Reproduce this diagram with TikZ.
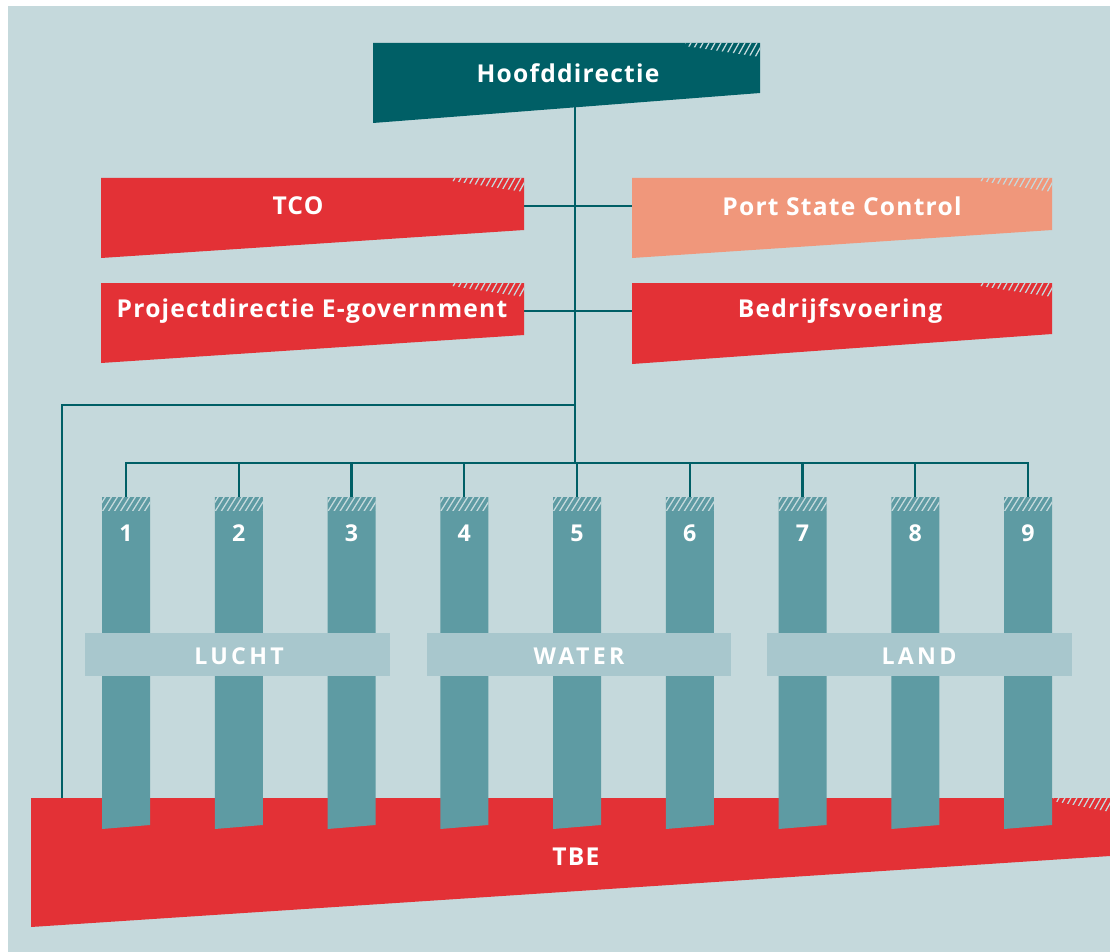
\documentclass[tikz,border=0pt]{standalone}
\usepackage{fontspec}
\setsansfont{Open Sans}[LetterSpace=5]
\usetikzlibrary{backgrounds}
\definecolor{bgblue}{HTML}{C5D9DC}
\definecolor{darkteal}{HTML}{005F66}
\definecolor{boxred}{HTML}{E33136}
\definecolor{salmon}{HTML}{F0977B}
\definecolor{colteal}{HTML}{5E9BA3}
\definecolor{bandblue}{HTML}{A8C7CD}

\begin{document}
\begin{tikzpicture}[x=0.025cm,y=-0.025cm,line join=round]
\tikzset{every node/.style={font=\sffamily\bfseries\fontsize{17.5}{20}\selectfont, text=white},
	small/.style={font=\sffamily\bfseries\fontsize{16.5}{19}\selectfont},
	grouplabel/.style={font=\sffamily\bfseries\fontsize{16.5}{19}\selectfont\addfontfeature{LetterSpace=14}},
	link/.style={draw=darkteal, line width=1.5pt},
	hatch/.style={draw=bgblue, line width=0.9pt}}
\useasboundingbox (0,0) rectangle (1110,952);
% top boxes
\fill[darkteal] (373,43)--(760,43)--(760,93)--(373,123)--cycle;
\fill[boxred] (101,178)--(524,178)--(524,230)--(101,258)--cycle;
\fill[salmon] (632,178)--(1052,178)--(1052,230)--(632,258)--cycle;
\fill[boxred] (101,283)--(524,283)--(524,335)--(101,363)--cycle;
\fill[boxred] (632,283)--(1052,283)--(1052,334)--(632,364)--cycle;
% TBE
\fill[boxred] (31,798)--(1110,798)--(1110,856)--(31,927)--cycle;
% hatched corners
\foreach \x/\y/\w in {760/43/75, 524/178/72, 1052/178/72, 524/283/72, 1052/283/72, 1110/798/57}{
	\begin{scope}
	\clip (\x-\w,\y)--(\x,\y)--(\x,\y+14)--(\x-\w,\y+3)--cycle;
	\foreach \s in {-6,0,...,84} \draw[hatch] (\x-\s,\y+16)--++(10,-18);
	\end{scope}
}
\node (hoofd) at (568,73) {Hoofddirectie};
\node (tco) at (298,206) {TCO};
\node (psc) at (842,206) {Port State Control};
\node (proj) at (312,311) {Projectdirectie E-government};
\node (bedr) at (840,311) {Bedrijfsvoering};
\node (tbe) at (576,857) {TBE};
% columns
\foreach \i in {1,...,9}{
	\pgfmathsetmacro\cx{126+112.75*(\i-1)}
	\fill[colteal] (\cx-24,497)--(\cx+24,497)--(\cx+24,825)--(\cx-24,829)--cycle;
	\begin{scope}
	\clip (\cx-24,497) rectangle (\cx+24,510);
	\foreach \s in {-12,-6,...,54} \draw[hatch] (\cx-24+\s,512)--++(10,-16);
	\end{scope}
	\node[small] (c\i) at (\cx,533) {\i};
}
% domains
\fill[bandblue] (85,633) rectangle (390,676);
\fill[bandblue] (427,633) rectangle (731,676);
\fill[bandblue] (767,633) rectangle (1072,676);
\node[grouplabel] (lucht) at (239,656) {LUCHT};
\node[grouplabel] (water) at (579,656) {WATER};
\node[grouplabel] (land) at (919,656) {LAND};
% lines
\coordinate (split) at (575,405);
\coordinate (bus) at (575,463);
\coordinate (tbeleft) at (62,800);
\begin{scope}[on background layer]
	\fill[bgblue] (8,6) rectangle (1110,952);
	\draw[link] (bus |- hoofd) -- (bus);
	\draw[link] (tco) -- (psc);
	\draw[link] (proj) -- (bedr);
	\draw[link] (split) -| (tbeleft);
	\foreach \i in {1,...,9} \draw[link] (c\i.center) |- (bus);
\end{scope}
\end{tikzpicture}
\end{document}
